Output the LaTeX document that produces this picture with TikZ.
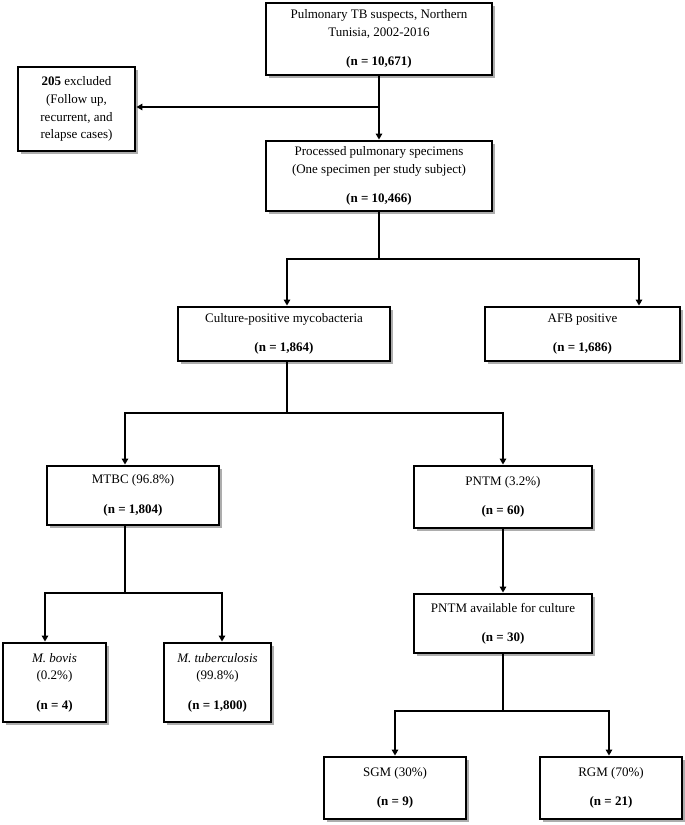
\documentclass[tikz,border=0pt]{standalone}
\usepackage{fontspec}
\setmainfont{Liberation Serif}
\usetikzlibrary{arrows.meta,shadows,calc}
\begin{document}
\begin{tikzpicture}[x=1pt,y=-1pt,
  box/.style={draw=black,line width=2.9pt,fill=white,align=center,inner sep=2pt,
    font=\fontsize{13}{17.8}\selectfont,
    drop shadow={shadow xshift=2.5pt,shadow yshift=-2.5pt,fill=black!40,opacity=0.8}},
  conn/.style={line width=2.1pt,draw=black},
  arr/.style={conn,-{Triangle[width=6.5pt,length=6pt]}}]
\useasboundingbox (0,0) rectangle (685,825);

\node[box,minimum width=226,minimum height=72] (b1) at (379,39)
  {Pulmonary TB suspects, Northern\\Tunisia, 2002-2016\\[11.5pt]\textbf{(n = 10,671)}};
\node[box,minimum width=117,minimum height=84] (excl) at (76.5,109)
  {\textbf{205} excluded\\(Follow up,\\recurrent, and\\relapse cases)};
\node[box,minimum width=226,minimum height=70] (b2) at (379,176)
  {Processed pulmonary specimens\\(One specimen per study subject)\\[11.5pt]\textbf{(n = 10,466)}};
\node[box,minimum width=212,minimum height=54] (cult) at (284,334)
  {Culture-positive mycobacteria\\[11.5pt]\textbf{(n = 1,864)}};
\node[box,minimum width=195,minimum height=54] (afb) at (582.5,334)
  {AFB positive\\[11.5pt]\textbf{(n = 1,686)}};
\node[box,minimum width=172,minimum height=59] (mtbc) at (133,495.5)
  {MTBC (96.8\%)\\[11.5pt]\textbf{(n = 1,804)}};
\node[box,minimum width=178,minimum height=62] (pntm) at (503,497)
  {PNTM (3.2\%)\\[11.5pt]\textbf{(n = 60)}};
\node[box,minimum width=178,minimum height=59] (avail) at (503,623.5)
  {PNTM available for culture\\[11.5pt]\textbf{(n = 30)}};
\node[box,minimum width=103,minimum height=79] (bovis) at (54.5,682.5)
  {\textit{M. bovis}\\(0.2\%)\\[11.5pt]\textbf{(n = 4)}};
\node[box,minimum width=107,minimum height=79] (tub) at (217.5,682.5)
  {\textit{M. tuberculosis}\\(99.8\%)\\[11.5pt]\textbf{(n = 1,800)}};
\node[box,minimum width=142,minimum height=62] (sgm) at (395,788)
  {SGM (30\%)\\[11.5pt]\textbf{(n = 9)}};
\node[box,minimum width=142,minimum height=62] (rgm) at (611,788)
  {RGM (70\%)\\[11.5pt]\textbf{(n = 21)}};

% top to processed, with exclusion branch
\coordinate (j1) at (379,107);
\draw[arr] (b1) -- (b2);
\draw[arr] (j1) -- (j1 -| excl.east);

% processed -> culture / AFB
\coordinate (j2) at (379,259);
\draw[conn] (b2.south) -- (j2);
\draw[arr] (j2) -| ($(cult.north)+(3,0)$);
\draw[arr] (j2) -| ($(afb.north)+(56.5,0)$);

% culture -> MTBC / PNTM
\coordinate (j3) at (287,413);
\draw[conn] ($(cult.south)+(3,0)$) -- (j3);
\draw[arr] (j3) -| ($(mtbc.north)+(-8,0)$);
\draw[arr] (j3) -| (pntm.north);

% MTBC -> bovis / tuberculosis
\coordinate (j4) at (125,593);
\draw[conn] ($(mtbc.south)+(-8,0)$) -- (j4);
\draw[arr] (j4) -| ($(bovis.north)+(-9.5,0)$);
\draw[arr] (j4) -| ($(tub.north)+(4.5,0)$);

% PNTM -> available
\draw[arr] (pntm) -- (avail);

% available -> SGM / RGM
\coordinate (j5) at (503,711);
\draw[conn] (avail.south) -- (j5);
\draw[arr] (j5) -| (sgm.north);
\draw[arr] (j5) -| ($(rgm.north)+(-2,0)$);
\end{tikzpicture}
\end{document}
